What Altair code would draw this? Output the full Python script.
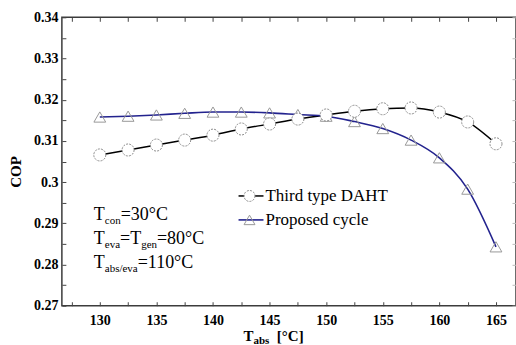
import altair as alt
import pandas as pd

# ---------------- data ----------------
t_abs = [130, 132.5, 135, 137.5, 140, 142.5, 145, 147.5, 150, 152.5, 155, 157.5, 160, 162.5, 165]
cop_daht = [0.3066, 0.3078, 0.3090, 0.3102, 0.3114, 0.3129, 0.3141, 0.3153, 0.3163,
            0.3172, 0.3178, 0.3180, 0.3170, 0.3146, 0.3093]
cop_proposed = [0.3158, 0.3160, 0.3163, 0.3167, 0.3170, 0.3170, 0.3168, 0.3164, 0.3160,
                0.3147, 0.3130, 0.3102, 0.3059, 0.2983, 0.2843]
series_names = ["Third type DAHT", "Proposed cycle"]

x_major = [130, 135, 140, 145, 150, 155, 160, 165]
x_minor = [127.5, 130, 132.5, 135, 137.5, 140, 142.5, 145, 147.5, 150, 152.5, 155, 157.5, 160, 162.5, 165]
y_major = [0.27, 0.28, 0.29, 0.30, 0.31, 0.32, 0.33, 0.34]
y_minor = [0.27, 0.275, 0.28, 0.285, 0.29, 0.295, 0.30, 0.305, 0.31, 0.315, 0.32, 0.325, 0.33, 0.335, 0.34]

ann_rows = [
    [("T", False), ("con", True), ("=30°C", False)],
    [("T", False), ("eva", True), ("=", False), ("T", False), ("gen", True), ("=80°C", False)],
    [("T", False), ("abs/eva", True), ("=110°C", False)],
]
x_title = [("T", False), ("abs", True), ("[°C]", False)]
y_title = "COP"

# ---------------- layout / style ----------------
FONT = "Liberation Serif, DejaVu Serif, serif"
W, H = 455, 289
PAD = {"left": 62, "top": 17, "right": 0, "bottom": 39}
BLUE = "#23238e"

REG = {" ": 250, "/": 278, "=": 564, "°": 400, "C": 667, "T": 611, "D": 722, "A": 722, "H": 722,
       "P": 556, "a": 444, "b": 500, "c": 444, "d": 500, "e": 444, "g": 500, "h": 500, "i": 278,
       "l": 278, "n": 500, "o": 500, "p": 500, "r": 333, "s": 389, "t": 278, "v": 500, "y": 500,
       "[": 333, "]": 333}
BOLD = {" ": 250, "T": 667, "a": 500, "b": 556, "s": 389, "[": 333, "]": 333, "°": 400, "C": 722}


def text_w(s, size, table):
    return sum(table.get(ch, 500) for ch in s) * size / 1000.0


def rich_text(pieces, x0, y0, main, sub, weight, table, drop, gap_after_sub=0.0):
    layers = []
    x = x0
    for txt, is_sub in pieces:
        fs = sub if is_sub else main
        y = y0 + (drop if is_sub else 0)
        layers.append(
            alt.Chart(pd.DataFrame({"label": [txt]}))
            .mark_text(align="left", baseline="alphabetic", font=FONT, fontSize=fs,
                       fontWeight=weight, color="black")
            .encode(x=alt.value(x), y=alt.value(y), text="label:N")
        )
        x += text_w(txt, fs, table) + (gap_after_sub if is_sub else 0.0)
    return layers


df_d = pd.DataFrame({"T": t_abs, "COP": cop_daht})
df_p = pd.DataFrame({"T": t_abs, "COP": cop_proposed})

xs = alt.Scale(domain=[126.65, 166.77], nice=False, zero=False)
ys = alt.Scale(domain=[0.27, 0.34], nice=False, zero=False)

lab = dict(labelFont=FONT, labelFontSize=14, labelFontWeight="bold", labelColor="black",
           labelFlush=False, labelOverlap=False, ticks=False, domain=False, grid=False, title=None)

# main line (carries label axes)
line_d = alt.Chart(df_d).mark_line(color="black", strokeWidth=1.5, interpolate="monotone").encode(
    x=alt.X("T:Q", scale=xs, axis=alt.Axis(orient="bottom", values=x_major, format="d", labelPadding=8, **lab)),
    y=alt.Y("COP:Q", scale=ys, axis=alt.Axis(orient="left", values=y_major, format=".2~f", labelPadding=4, **lab)),
)

tk = dict(labels=False, domain=False, grid=False, title=None, tickSize=4, tickWidth=1)

# inward ticks on bottom / left
ticks_bl = alt.Chart(df_d).mark_point(opacity=0).encode(
    x=alt.X("T:Q", scale=xs, axis=alt.Axis(orient="bottom", values=x_minor, offset=-4, tickColor="#444", **tk)),
    y=alt.Y("COP:Q", scale=ys, axis=alt.Axis(orient="left", values=y_minor, offset=-4, tickColor="#444", **tk)),
)
# inward ticks on top / right
ticks_tr = alt.Chart(df_d).mark_point(opacity=0).encode(
    x=alt.X("T:Q", scale=xs, axis=alt.Axis(orient="top", values=x_minor, offset=-4, tickColor="#444", **tk)),
    y=alt.Y("COP:Q", scale=ys, axis=alt.Axis(orient="right", values=y_minor, offset=-4, tickColor="#bbb", **tk)),
)

line_p = alt.Chart(df_p).mark_line(color=BLUE, strokeWidth=1.6, interpolate="monotone").encode(
    x=alt.X("T:Q", scale=xs, axis=None), y=alt.Y("COP:Q", scale=ys, axis=None))

pts_d = alt.Chart(df_d).mark_point(shape="circle", filled=True, fill="white", stroke="#8a8a8a",
                                   strokeWidth=1, strokeDash=[2, 1.2], size=145, opacity=1).encode(
    x=alt.X("T:Q", scale=xs, axis=None), y=alt.Y("COP:Q", scale=ys, axis=None))
pts_p = alt.Chart(df_p).mark_point(shape="triangle-up", filled=False, stroke="#999999",
                                   strokeWidth=1, size=140, opacity=1).encode(
    x=alt.X("T:Q", scale=xs, axis=None), y=alt.Y("COP:Q", scale=ys, axis=None))

one = pd.DataFrame({"a": [0]})
legend = []
leg_rows = [(series_names[0], "black", 1.5, "circle", 179, 184),
            (series_names[1], BLUE, 1.6, "triangle-up", 203, 208)]
for name, col, sw, shp, ly, by in leg_rows:
    legend.append(alt.Chart(one).mark_rule(color=col, strokeWidth=sw).encode(
        x=alt.value(177), x2=alt.value(202), y=alt.value(ly)))
    if shp == "circle":
        legend.append(alt.Chart(one).mark_point(shape=shp, filled=True, fill="white", stroke="#8a8a8a",
                                                strokeWidth=1, strokeDash=[2, 1.2], size=120, opacity=1)
                      .encode(x=alt.value(188), y=alt.value(ly)))
    else:
        legend.append(alt.Chart(one).mark_point(shape=shp, filled=False, stroke="#999999",
                                                strokeWidth=1, size=120, opacity=1)
                      .encode(x=alt.value(188), y=alt.value(ly)))
    legend.append(alt.Chart(pd.DataFrame({"label": [name]})).mark_text(
        align="left", baseline="alphabetic", font=FONT, fontSize=17, color="black")
        .encode(x=alt.value(204), y=alt.value(by), text="label:N"))

ann = []
for i, row in enumerate(ann_rows):
    ann += rich_text(row, 32, 203 + 24 * i, 18, 11, "normal", REG, 4)

xt = rich_text(x_title, 182, 324, 15, 11, "bold", BOLD, 3, gap_after_sub=7.5)

yt = alt.Chart(pd.DataFrame({"label": [y_title]})).mark_text(
    align="center", baseline="middle", angle=270, font=FONT, fontSize=15, fontWeight="bold",
    color="black").encode(x=alt.value(-46), y=alt.value(155), text="label:N")

chart = alt.layer(
    line_d, ticks_bl, ticks_tr, line_p, pts_p, pts_d, *legend, *ann, *xt, yt
).resolve_axis(x="independent", y="independent").properties(
    width=W, height=H, padding=PAD, autosize=alt.AutoSizeParams(type="none"),
    background="white",
).configure_view(stroke="#3c3c3c", strokeWidth=1.5)

chart.save("out.html", embed_options={"renderer": "svg", "actions": False})
